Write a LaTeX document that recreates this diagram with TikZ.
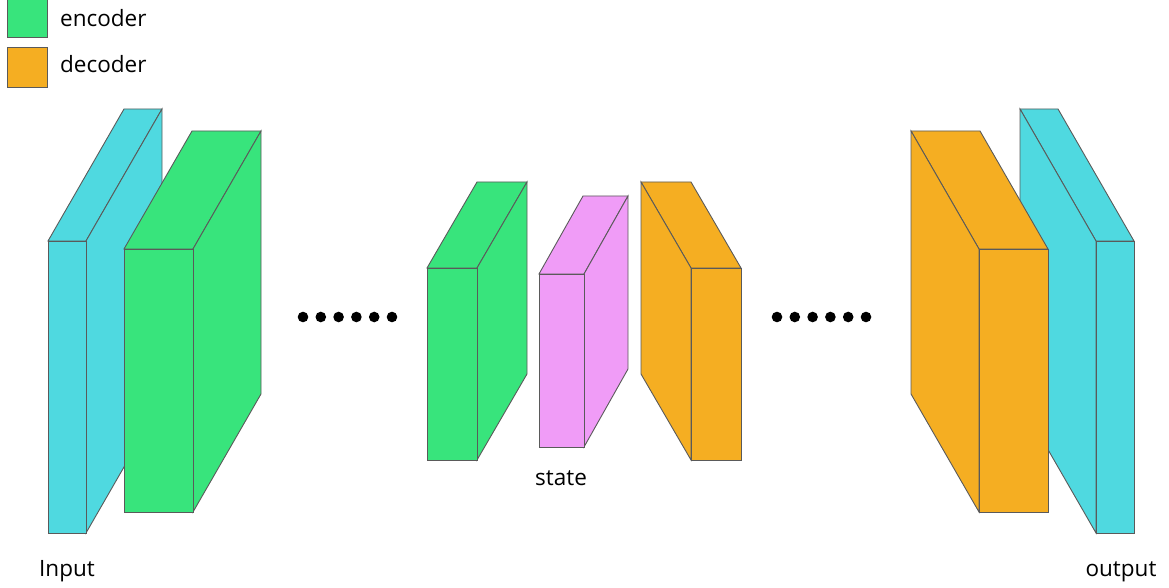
\documentclass[tikz,border=0pt]{standalone}
\usepackage{fontspec}
\setmainfont{Open Sans}
\definecolor{cyanc}{HTML}{4FD9E0}
\definecolor{greenc}{HTML}{38E47C}
\definecolor{orangec}{HTML}{F5AE22}
\definecolor{pinkc}{HTML}{F09CF7}
\definecolor{edgec}{HTML}{5A5A5A}
% \layerbox{x1}{y1}{x2}{y2}{dx}{dy}{colour}
\newcommand\layerbox[7]{%
  \filldraw[face,fill=#7] (#1,#2) -- (#1+#5,#2+#6) -- (#3+#5,#2+#6) -- (#3,#2) -- cycle;
  \ifdim #5pt>0pt
    \filldraw[face,fill=#7] (#3,#2) -- (#3+#5,#2+#6) -- (#3+#5,#4+#6) -- (#3,#4) -- cycle;
  \else
    \filldraw[face,fill=#7] (#1,#2) -- (#1+#5,#2+#6) -- (#1+#5,#4+#6) -- (#1,#4) -- cycle;
  \fi
  \filldraw[face,fill=#7] (#1,#2) rectangle (#3,#4);
}
\begin{document}
\begin{tikzpicture}[x=1pt,y=-1pt,
  face/.style={draw=edgec,line width=0.9pt,line join=miter},
  lab/.style={font=\fontsize{22.5}{26}\selectfont,text=black,inner sep=0pt},
  dot/.style={fill=black}]
\useasboundingbox (0,0) rectangle (1169,588);
% legend
\filldraw[face,fill=greenc] (7,-3) rectangle (47,37);
\filldraw[face,fill=orangec] (7,47) rectangle (47,87);
\node[lab,anchor=base west] (enc) at (60,27) {encoder};
\node[lab,anchor=base west] (dec) at (60,73) {decoder};
% left stack
\layerbox{48}{241}{86}{533}{76}{-132}{cyanc}
\layerbox{124}{249}{193}{512}{68}{-118}{greenc}
% middle
\layerbox{427}{268}{477}{460}{50}{-86}{greenc}
\layerbox{539}{274}{584}{447}{44}{-78}{pinkc}
\layerbox{691}{268}{741}{460}{-50}{-86}{orangec}
% right stack
\layerbox{1096}{241}{1134}{533}{-76}{-132}{cyanc}
\layerbox{979}{249}{1048}{512}{-68}{-118}{orangec}
% dots
\foreach \i in {0,...,5} {
  \fill[dot] (303+17.8*\i,317) circle (5.3);
  \fill[dot] (777+17.8*\i,317) circle (5.3);
}
% labels
\node[lab,anchor=base] (inp) at (67,576) {Input};
\node[lab,anchor=base] (outp) at (1121,576) {output};
\node[lab,anchor=base] (st) at (561,485) {state};
\end{tikzpicture}
\end{document}
